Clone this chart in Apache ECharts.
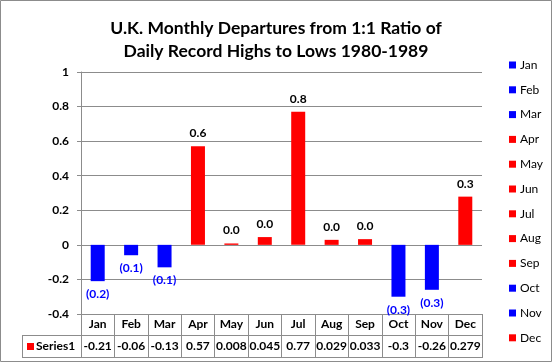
<!DOCTYPE html>
<html><head><meta charset="utf-8">
<script src="https://cdn.jsdelivr.net/npm/echarts@6/dist/echarts.min.js"></script>
<style>html,body{margin:0;padding:0;background:#fff}#c{width:552px;height:362px}</style>
</head><body><div id="c"></div>
<script>
var months = ['Jan','Feb','Mar','Apr','May','Jun','Jul','Aug','Sep','Oct','Nov','Dec'];
var values = [-0.21,-0.06,-0.13,0.57,0.008,0.045,0.77,0.029,0.033,-0.3,-0.26,0.279];
var tableText = ['-0.21','-0.06','-0.13','0.57','0.008','0.045','0.77','0.029','0.033','-0.3','-0.26','0.279'];
var yMin = -0.4, yMax = 1, yStep = 0.2;
var titleLines = ['U.K. Monthly Departures from 1:1 Ratio of','Daily Record Highs to Lows 1980-1989'];

var FONT = 'Lato';
var BLUE = '#0000FF', RED = '#FF0000', GRID = '#8c8c8c';

function fmt(v){ var s = Math.abs(v).toFixed(1); return v < 0 ? '(' + s + ')' : s; }

var series = months.map(function(m, i){
  var d = months.map(function(_, j){ return j === i ? values[i] : '-'; });
  var neg = values[i] < 0;
  return {
    name: m, type: 'bar', data: d, barWidth: 14, barGap: '-100%',
    itemStyle: { color: neg ? BLUE : RED },
    label: { show: true, position: neg ? 'bottom' : 'top', distance: 7,
      formatter: function(p){ return fmt(p.value); },
      color: neg ? BLUE : '#000', fontFamily: FONT, fontWeight: 'bold', fontSize: 12 }
  };
});

var chart = echarts.init(document.getElementById('c'), null, {renderer: 'canvas'});
chart.setOption({
  backgroundColor: '#fff',
  animation: false,
  title: { text: titleLines.join('\n'), left: 'center', top: 12,
    textStyle: { fontFamily: FONT, fontWeight: 'bold', fontSize: 17.5, lineHeight: 23, color: '#000' } },
  legend: { orient: 'vertical', left: 504, top: 53, itemWidth: 7, itemHeight: 7, itemGap: 10.8,
    icon: 'rect', data: months,
    textStyle: { fontFamily: FONT, fontSize: 12, color: '#000', lineHeight: 14, padding: [0,0,0,-1] } },
  grid: { left: 81, right: 70, top: 72, bottom: 48, containLabel: false },
  xAxis: { type: 'category', data: months,
    axisLine: { onZero: false, lineStyle: { color: GRID } },
    axisTick: { show: true, length: 44, alignWithLabel: false, lineStyle: { color: GRID } },
    axisLabel: { margin: 0, interval: 0,
      formatter: function(v, i){ return '{m|' + v + '}\n{v|' + tableText[i] + '}'; },
      rich: { m: { fontFamily: FONT, fontWeight: 'bold', fontSize: 12, lineHeight: 21, color: '#000' },
              v: { fontFamily: FONT, fontWeight: 'bold', fontSize: 12, lineHeight: 23, color: '#000' } } } },
  yAxis: { type: 'value', min: yMin, max: yMax, interval: yStep,
    axisLine: { show: true, lineStyle: { color: GRID } },
    axisTick: { show: true, length: 4, lineStyle: { color: GRID } },
    splitLine: { lineStyle: { color: GRID } },
    axisLabel: { fontFamily: FONT, fontWeight: 'bold', fontSize: 12, color: '#000', margin: 12,
      formatter: function(v){ return String(Number(v.toFixed(1))); } } },
  series: series,
  graphic: [
    { type: 'rect', shape: { x: 0.5, y: 0.5, width: 551, height: 361 }, style: { fill: 'none', stroke: '#8c8c8c', lineWidth: 1 }, silent: true },
    { type: 'line', shape: { x1: 22, y1: 335.5, x2: 482, y2: 335.5 }, style: { stroke: GRID, lineWidth: 1 } },
    { type: 'line', shape: { x1: 22, y1: 357.5, x2: 482, y2: 357.5 }, style: { stroke: GRID, lineWidth: 1 } },
    { type: 'line', shape: { x1: 22.5, y1: 335, x2: 22.5, y2: 358 }, style: { stroke: GRID, lineWidth: 1 } },
    { type: 'rect', shape: { x: 27, y: 343, width: 7, height: 7 }, style: { fill: RED } },
    { type: 'text', x: 36, y: 346.5, style: { text: 'Series1', fontFamily: FONT, fontWeight: 'bold', fontSize: 12, fill: '#000', textVerticalAlign: 'middle' } }
  ]
});
</script></body></html>
